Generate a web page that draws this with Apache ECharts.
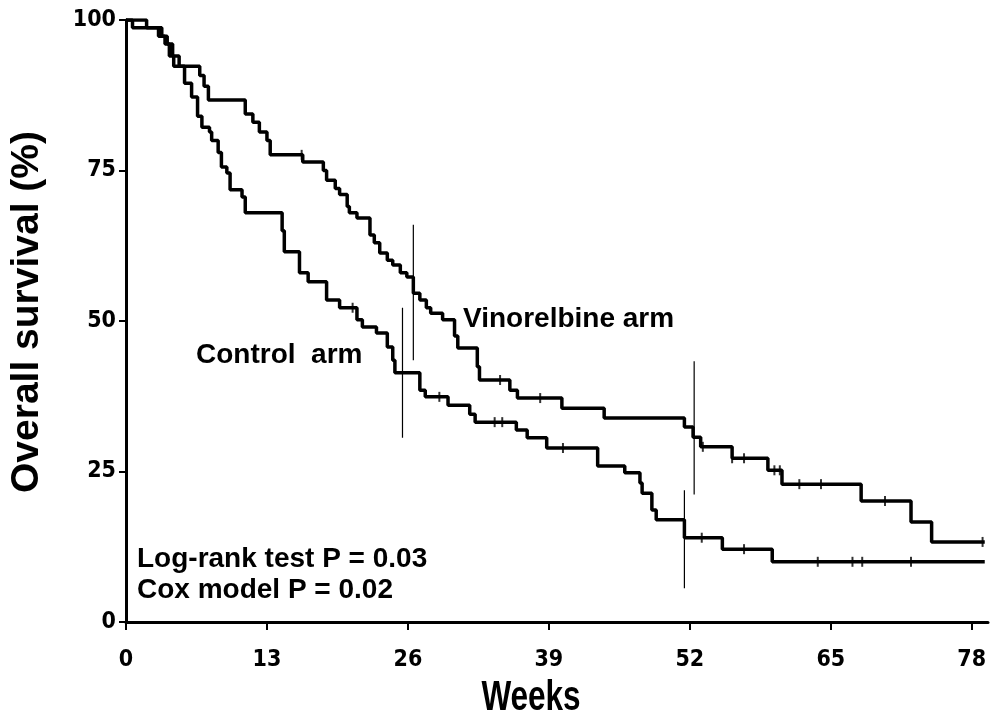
<!DOCTYPE html>
<html>
<head>
<meta charset="utf-8">
<script src="https://cdn.jsdelivr.net/npm/echarts@6/dist/echarts.min.js"></script>
<style>
  html, body { margin: 0; padding: 0; background: #fff; }
  #main { width: 992px; height: 723px; }
</style>
</head>
<body>
<div id="main"></div>
<script>
/* survival data (weeks, % alive after each drop) */
var vinoWeeks = [0, 1.9, 3.3, 3.8, 4.3, 4.9, 6.8, 7.2, 7.6, 11.0, 11.7, 12.3, 13.0, 13.3, 16.3, 18.2, 18.5, 19.3, 19.7, 20.4, 20.6, 21.3, 22.5, 22.9, 23.4, 24.1, 24.6, 25.3, 25.9, 26.5, 27.1, 27.7, 28.1, 29.2, 30.3, 30.6, 32.4, 32.6, 35.4, 36.1, 40.2, 44.1, 51.5, 52.3, 53.0, 55.9, 59.2, 60.5, 67.8, 72.4, 74.3, 79.2];
var vinoSurv  = [100, 98.7, 97.3, 96, 94, 92.3, 90.8, 89, 86.7, 84.4, 83, 81.4, 80, 77.6, 76.4, 75, 73.4, 72, 71, 69, 68, 67.1, 64.3, 63, 61.3, 60.1, 59.3, 58, 57.3, 54.6, 53.5, 52.2, 51.3, 50.2, 47.5, 45.5, 42.4, 40.2, 38.5, 37.2, 35.5, 33.9, 32.4, 30.7, 29.1, 27.2, 25.2, 22.9, 20.1, 16.6, 13.3, 13.3];

var ctrlWeeks = [0, 0.6, 3.0, 3.6, 4.0, 4.4, 5.4, 6.05, 6.6, 7.0, 7.7, 7.9, 8.5, 8.8, 9.3, 9.6, 10.7, 11.0, 14.4, 14.6, 16.0, 16.8, 18.5, 19.7, 21.3, 21.8, 23.1, 24.1, 24.6, 24.8, 27.1, 27.6, 29.7, 31.7, 32.2, 36.0, 37.0, 38.8, 43.5, 46.0, 47.4, 47.6, 48.5, 48.9, 51.5, 55.0, 59.6, 79.2];
var ctrlSurv  = [100, 98.7, 97.3, 96, 94, 92.3, 89.5, 87.2, 84, 82.2, 81.4, 80, 78, 75.6, 74.6, 71.8, 70.6, 68, 65, 61.5, 58, 56.5, 53.5, 52.2, 50.2, 49, 48, 45.7, 43.5, 41.4, 38.5, 37.4, 36, 34.5, 33.2, 31.9, 30.6, 28.9, 25.9, 24.8, 23.1, 21.4, 18.6, 17, 14, 12.1, 10, 10];

/* censored observations (weeks) */
var vinoCensor = [16.2, 34.5, 38.2, 53.2, 55.9, 57.0, 59.8, 60.3, 62.1, 64.1, 70.0, 79.0];
var ctrlCensor = [20.9, 28.9, 34.0, 34.7, 40.3, 53.1, 57.0, 63.8, 67.0, 67.9, 72.4];

/* confidence bars: week, low, high */
var ciWeeks = [25.5, 26.5, 51.5, 52.4];
var ciLow   = [30.6, 43.5, 5.6, 21.2];
var ciHigh  = [52.2, 66.0, 21.9, 43.3];

var xTicks = [0, 13, 26, 39, 52, 65, 78];

function pairs(xs, ys) {
    return xs.map(function (x, i) { return [x, ys[i]]; });
}
/* value of a step curve at week t */
function survAt(xs, ys, t) {
    var v = ys[0];
    for (var i = 0; i < xs.length; i++) {
        if (xs[i] <= t) v = ys[i];
    }
    return v;
}

var narrow = '"DejaVu Sans Condensed", "Liberation Sans Narrow", sans-serif';
var arial = '"Liberation Sans", Arial, sans-serif';
var chart = echarts.init(document.getElementById('main'));

var series = [
    {
        type: 'line', step: 'end', symbol: 'none',
        data: pairs(vinoWeeks, vinoSurv),
        lineStyle: { color: '#000', width: 3.5 }, z: 3
    },
    {
        type: 'line', step: 'end', symbol: 'none',
        data: pairs(ctrlWeeks, ctrlSurv),
        lineStyle: { color: '#000', width: 3.5 }, z: 3
    },
    {
        type: 'scatter', symbol: 'rect', symbolSize: [2, 10],
        itemStyle: { color: '#000' },
        data: vinoCensor.map(function (t) { return [t, survAt(vinoWeeks, vinoSurv, t)]; })
    },
    {
        type: 'scatter', symbol: 'rect', symbolSize: [2, 10],
        itemStyle: { color: '#000' },
        data: ctrlCensor.map(function (t) { return [t, survAt(ctrlWeeks, ctrlSurv, t)]; })
    }
];
ciWeeks.forEach(function (w, i) {
    series.push({
        type: 'line', symbol: 'none',
        data: [[w, ciLow[i]], [w, ciHigh[i]]],
        lineStyle: { color: '#000', width: 1.2 }
    });
});

function label(text, x, y, size) {
    return { type: 'text', left: x, top: y, style: { text: text, fontFamily: arial, fontWeight: 'bold', fontSize: size, fill: '#000' } };
}

chart.setOption({
    animation: false,
    backgroundColor: '#fff',
    grid: { left: 126, right: 4, top: 20, bottom: 101 },
    xAxis: {
        type: 'value', min: 0, max: 79.5,
        axisLine: { show: true, lineStyle: { color: '#000', width: 3 } },
        axisTick: { show: true, customValues: xTicks, length: 8, lineStyle: { color: '#000', width: 2 } },
        axisLabel: { customValues: xTicks, margin: 27, fontFamily: narrow, fontWeight: 'bold', fontSize: 23, color: '#000' },
        splitLine: { show: false }
    },
    yAxis: {
        type: 'value', min: 0, max: 100, interval: 25,
        axisLine: { show: true, lineStyle: { color: '#000', width: 3 } },
        axisTick: { show: true, length: 7, lineStyle: { color: '#000', width: 2 } },
        axisLabel: { margin: 10, fontFamily: narrow, fontWeight: 'bold', fontSize: 23, color: '#000' },
        splitLine: { show: false }
    },
    graphic: [
        label('Vinorelbine arm', 463, 305, 28),
        label('Control  arm', 196, 341, 28),
        label('Log-rank test P = 0.03', 137, 545, 28),
        label('Cox model P = 0.02', 137, 576, 28),
        {
            type: 'text', x: 531, y: 698, scaleX: 0.75,
            style: { text: 'Weeks', fontFamily: arial, fontWeight: 'bold', fontSize: 42, fill: '#000', align: 'center', verticalAlign: 'middle' }
        },
        {
            type: 'text', x: 27, y: 312, rotation: Math.PI / 2,
            style: { text: 'Overall survival (%)', fontFamily: arial, fontWeight: 'bold', fontSize: 39, fill: '#000', align: 'center', verticalAlign: 'middle' }
        }
    ],
    series: series
});
</script>
</body>
</html>
